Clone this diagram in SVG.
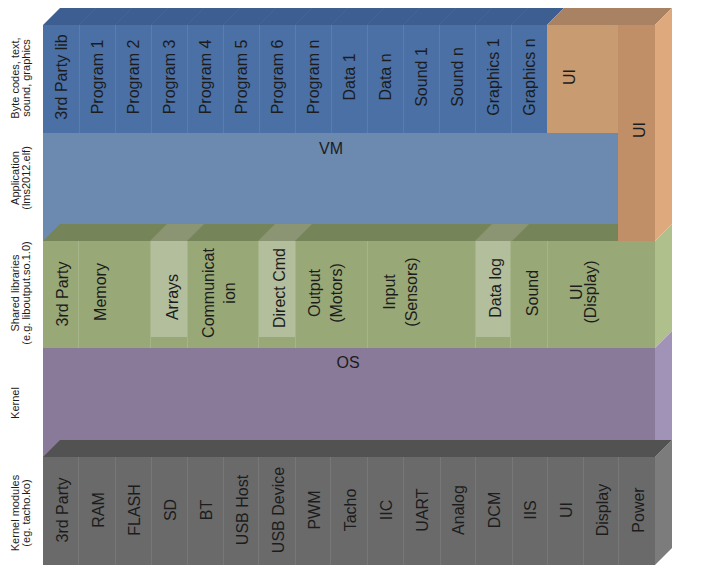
<svg xmlns="http://www.w3.org/2000/svg" width="706" height="570" viewBox="0 0 706 570">
<style>
.t{font-family:"Liberation Sans",Arial,sans-serif;font-size:16px;fill:#1c1c1c;text-anchor:middle}
.s{font-family:"Liberation Sans",Arial,sans-serif;font-size:11px;fill:#1c1c1c;text-anchor:middle}
.sb{stroke:#5a7db0;stroke-width:1;fill:none}
.sbt{stroke:#42649a;stroke-width:1;fill:none}
.sg{stroke:#a6b588;stroke-width:1;fill:none}
.sk{stroke:#777777;stroke-width:1;fill:none}
.hl{fill:#b3be9c}
.hlt{fill:#8b9573}
</style>
<rect width="706" height="570" fill="#ffffff"/>

<g id="side-labels">
  <text class="s" transform="translate(19,78) rotate(-90)">Byte codes, text,</text>
  <text class="s" transform="translate(30,78) rotate(-90)">sound, graphics</text>
  <text class="s" transform="translate(19,178) rotate(-90)">Application</text>
  <text class="s" transform="translate(30,178) rotate(-90)">(lms2012.elf)</text>
  <text class="s" transform="translate(19,293) rotate(-90)">Shared libraries</text>
  <text class="s" transform="translate(30,293) rotate(-90)">(e.g. liboutput.so.1.0)</text>
  <text class="s" transform="translate(19,403) rotate(-90)">Kernel</text>
  <text class="s" transform="translate(19,513) rotate(-90)">Kernel modules</text>
  <text class="s" transform="translate(30,513) rotate(-90)">(eg. tacho.ko)</text>
</g>

<!-- Byte code layer -->
<g id="bytecode-layer">
  <polygon points="43,25 60,8 564,8 547,25" fill="#3c5e90"/>
  <path class="sbt" d="M79,25 L96,8 M115,25 L132,8 M151,25 L168,8 M187,25 L204,8 M223,25 L240,8 M259,25 L276,8 M295,25 L312,8 M331,25 L348,8 M367,25 L384,8 M403,25 L420,8 M439,25 L456,8 M475,25 L492,8 M511,25 L528,8"/>
  <rect x="43" y="25" width="504" height="108" fill="#4a70a6"/>
  <path class="sb" d="M79.5,25 V133 M115.5,25 V133 M151.5,25 V133 M187.5,25 V133 M223.5,25 V133 M259.5,25 V133 M295.5,25 V133 M331.5,25 V133 M367.5,25 V133 M403.5,25 V133 M439.5,25 V133 M475.5,25 V133 M511.5,25 V133"/>
  <g id="bc-3rdparty"><text class="t" transform="translate(67,77) rotate(-90)">3rd Party lib</text></g>
  <g id="bc-program1"><text class="t" transform="translate(103,77) rotate(-90)">Program 1</text></g>
  <g id="bc-program2"><text class="t" transform="translate(139,77) rotate(-90)">Program 2</text></g>
  <g id="bc-program3"><text class="t" transform="translate(175,77) rotate(-90)">Program 3</text></g>
  <g id="bc-program4"><text class="t" transform="translate(211,77) rotate(-90)">Program 4</text></g>
  <g id="bc-program5"><text class="t" transform="translate(247,77) rotate(-90)">Program 5</text></g>
  <g id="bc-program6"><text class="t" transform="translate(283,77) rotate(-90)">Program 6</text></g>
  <g id="bc-programn"><text class="t" transform="translate(319,77) rotate(-90)">Program n</text></g>
  <g id="bc-data1"><text class="t" transform="translate(355,77) rotate(-90)">Data 1</text></g>
  <g id="bc-datan"><text class="t" transform="translate(391,77) rotate(-90)">Data n</text></g>
  <g id="bc-sound1"><text class="t" transform="translate(427,77) rotate(-90)">Sound 1</text></g>
  <g id="bc-soundn"><text class="t" transform="translate(463,77) rotate(-90)">Sound n</text></g>
  <g id="bc-graphics1"><text class="t" transform="translate(499,77) rotate(-90)">Graphics 1</text></g>
  <g id="bc-graphicsn"><text class="t" transform="translate(535,77) rotate(-90)">Graphics n</text></g>
</g>

<!-- UI orange blocks -->
<g id="ui-block">
  <polygon points="547,25 564,8 672,8 655,25" fill="#a88262"/>
  <rect x="547" y="25" width="71" height="108" fill="#c99b71"/>
  <text class="t" transform="translate(574.5,77) rotate(-90)">UI</text>
</g>
<g id="ui-column">
  <rect x="618" y="25" width="37" height="216" fill="#c08f68"/>
  <polygon points="655,25 672,8 672,224 655,241" fill="#dea97d"/>
  <text class="t" transform="translate(644.5,130) rotate(-90)">UI</text>
</g>

<!-- VM -->
<g id="vm-layer">
  <rect x="43" y="133" width="575" height="108" fill="#6c89af"/>
  <text class="t" x="331" y="154">VM</text>
</g>

<!-- Shared libraries -->
<g id="shared-layer">
  <polygon points="43,241 60,224 618,224 618,241" fill="#768459"/>
  <polygon class="hlt" points="150,241 167,224 204,224 187,241"/>
  <polygon class="hlt" points="258,241 275,224 312,224 295,241"/>
  <polygon class="hlt" points="475,241 492,224 529,224 512,241"/>
  <rect x="43" y="241" width="612" height="107" fill="#99a877"/>
  <polygon points="655,241 672,224 672,331 655,348" fill="#afc08d"/>
  <rect class="hl" x="150" y="241" width="37" height="96"/>
  <rect class="hl" x="258" y="241" width="37" height="96"/>
  <rect class="hl" x="475" y="241" width="35" height="96"/>
  <path class="sg" d="M78.5,241 V348 M150.5,241 V348 M187.5,241 V348 M258.5,241 V348 M295.5,241 V348 M367.5,241 V348 M475.5,241 V348 M510.5,241 V348 M547.5,241 V348"/>
  <g id="sl-3rdparty"><text class="t" transform="translate(67.5,294) rotate(-90)">3rd Party</text></g>
  <g id="sl-memory"><text class="t" transform="translate(105.5,292) rotate(-90)">Memory</text></g>
  <g id="sl-arrays"><text class="t" transform="translate(177.5,297) rotate(-90)">Arrays</text></g>
  <g id="sl-communication"><text class="t" transform="translate(213.5,293) rotate(-90)">Communicat</text><text class="t" transform="translate(235,293) rotate(-90)">ion</text></g>
  <g id="sl-directcmd"><text class="t" transform="translate(285,288) rotate(-90)">Direct Cmd</text></g>
  <g id="sl-output"><text class="t" transform="translate(320,293) rotate(-90)">Output</text><text class="t" transform="translate(342,293) rotate(-90)">(Motors)</text></g>
  <g id="sl-input"><text class="t" transform="translate(395,292) rotate(-90)">Input</text><text class="t" transform="translate(417,292) rotate(-90)">(Sensors)</text></g>
  <g id="sl-datalog"><text class="t" transform="translate(500.5,288) rotate(-90)">Data log</text></g>
  <g id="sl-sound"><text class="t" transform="translate(537.5,293) rotate(-90)">Sound</text></g>
  <g id="sl-ui"><text class="t" transform="translate(581.5,292) rotate(-90)">UI</text><text class="t" transform="translate(596,292) rotate(-90)">(Display)</text></g>
</g>

<!-- Kernel -->
<g id="kernel-layer">
  <rect x="43" y="348" width="612" height="109" fill="#887a98"/>
  <polygon points="655,348 672,331 672,440 655,457" fill="#a193b7"/>
  <text class="t" x="348" y="368">OS</text>
</g>

<!-- Kernel modules -->
<g id="modules-layer">
  <polygon points="43,457 60,440 672,440 655,457" fill="#525252"/>
  <rect x="43" y="457" width="612" height="108" fill="#6a6a6a"/>
  <polygon points="655,457 672,440 672,548 655,565" fill="#7c7c7c"/>
  <path class="sk" d="M78.5,457 V565 M115.5,457 V565 M151.5,457 V565 M187.5,457 V565 M223.5,457 V565 M258.5,457 V565 M295.5,457 V565 M330.5,457 V565 M367.5,457 V565 M403.5,457 V565 M440.5,457 V565 M475.5,457 V565 M512.5,457 V565 M547.5,457 V565 M583.5,457 V565 M618.5,457 V565"/>
  <g id="km-3rdparty"><text class="t" transform="translate(68,510) rotate(-90)">3rd Party</text></g>
  <g id="km-ram"><text class="t" transform="translate(104,510) rotate(-90)">RAM</text></g>
  <g id="km-flash"><text class="t" transform="translate(140,510) rotate(-90)">FLASH</text></g>
  <g id="km-sd"><text class="t" transform="translate(176,510) rotate(-90)">SD</text></g>
  <g id="km-bt"><text class="t" transform="translate(212,510) rotate(-90)">BT</text></g>
  <g id="km-usbhost"><text class="t" transform="translate(248,510) rotate(-90)">USB Host</text></g>
  <g id="km-usbdevice"><text class="t" transform="translate(284,510) rotate(-90)">USB Device</text></g>
  <g id="km-pwm"><text class="t" transform="translate(320,510) rotate(-90)">PWM</text></g>
  <g id="km-tacho"><text class="t" transform="translate(356,510) rotate(-90)">Tacho</text></g>
  <g id="km-iic"><text class="t" transform="translate(392,510) rotate(-90)">IIC</text></g>
  <g id="km-uart"><text class="t" transform="translate(428,510) rotate(-90)">UART</text></g>
  <g id="km-analog"><text class="t" transform="translate(464,510) rotate(-90)">Analog</text></g>
  <g id="km-dcm"><text class="t" transform="translate(500,510) rotate(-90)">DCM</text></g>
  <g id="km-iis"><text class="t" transform="translate(536,510) rotate(-90)">IIS</text></g>
  <g id="km-ui"><text class="t" transform="translate(572,510) rotate(-90)">UI</text></g>
  <g id="km-display"><text class="t" transform="translate(608,510) rotate(-90)">Display</text></g>
  <g id="km-power"><text class="t" transform="translate(644,510) rotate(-90)">Power</text></g>
</g>

<g id="connectors"></g>
</svg>
